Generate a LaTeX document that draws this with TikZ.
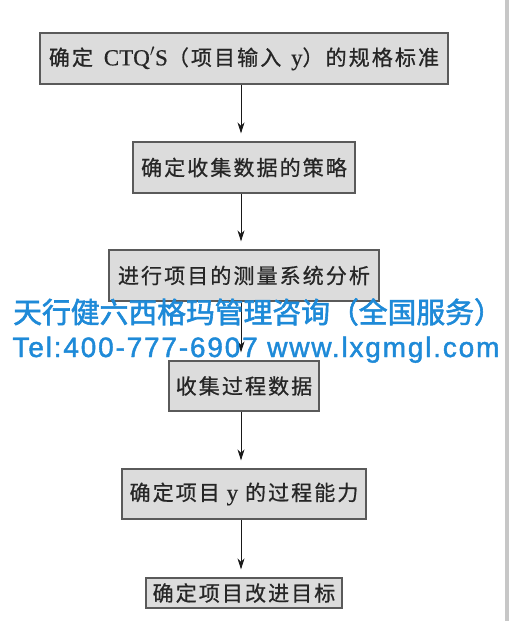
\documentclass[tikz,border=0pt]{standalone}
\usepackage{fontspec}
\setmainfont{Liberation Serif}[FakeBold=0.6]
\newfontfamily\cjk{Noto Sans CJK SC}[LetterSpace=10,FakeBold=0.8]
\newfontfamily\wmcjk{Noto Sans CJK SC}[FakeBold=2]
\newfontfamily\wmlat{Liberation Sans}[FakeBold=1.5,LetterSpace=6.5]
\usetikzlibrary{arrows.meta}
\definecolor{boxfill}{HTML}{DCDCDC}
\definecolor{boxline}{HTML}{5A5A5A}
\definecolor{wmblue}{HTML}{1E8AD8}
\tikzset{
  stepbox/.style={draw=boxline, line width=1.3pt, fill=boxfill, inner sep=0pt,
    minimum height=51pt, text=black!85, font=\cjk\fontsize{21}{24}\selectfont},
  arr/.style={-{Stealth[length=11pt,width=7pt]}, line width=0.8pt, black!90, shorten >=8pt},
  wm/.style={text=wmblue, inner sep=0pt}
}
\begin{document}
\begin{tikzpicture}[x=1pt,y=-1pt]
\useasboundingbox (0,0) rectangle (509,621);
\fill[white] (0,0) rectangle (509,621);
\fill[black!22] (505,0) rectangle (509,621);
\coordinate (ax) at (241,0);
\node[stepbox, minimum width=408pt] (b1) at (244,58.5) {确定\hspace{4pt} {\rmfamily\fontsize{23}{24}\selectfont CTQ$'$S}（项目输入\hspace{3pt} {\rmfamily\fontsize{23}{24}\selectfont y}）的规格标准};
\node[stepbox, minimum width=222pt] (b2) at (244,167.5) {确定收集数据的策略};
\node[stepbox, minimum width=270pt] (b3) at (244,275.5) {进行项目的测量系统分析};
\node[stepbox, minimum width=150pt, minimum height=50pt] (b4) at (244,386) {收集过程数据};
\node[stepbox, minimum width=244pt, minimum height=50pt] (b5) at (244,494) {确定项目 {\rmfamily\fontsize{23}{24}\selectfont y} 的过程能力};
\node[stepbox, minimum width=196pt, minimum height=30pt] (b6) at (244,593) {确定项目改进目标};
\draw[arr] (b1.south -| ax) -- (b2.north -| ax);
\draw[arr] (b2.south -| ax) -- (b3.north -| ax);
\draw[arr] (b3.south -| ax) -- (b4.north -| ax);
\draw[arr] (b4.south -| ax) -- (b5.north -| ax);
\draw[arr] (b5.south -| ax) -- (b6.north -| ax);
\node[wm, font=\wmcjk\fontsize{28.8}{30}\selectfont] (w1) at (258,312) {天行健六西格玛管理咨询（全国服务）};
\node[wm, font=\wmlat\fontsize{28}{30}\selectfont, anchor=base] (w2) at (256,357) {Tel:400-777-6907 www.lxgmgl.com};
\end{tikzpicture}
\end{document}
